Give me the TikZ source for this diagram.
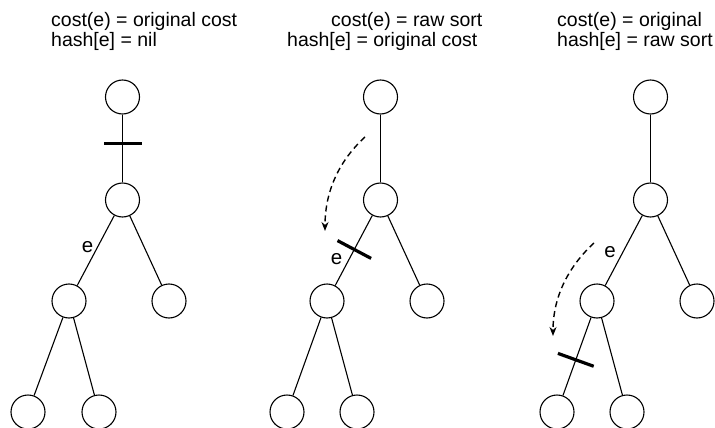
\documentclass[tikz,border=0pt]{standalone}
\usepackage{fontspec}
\setmainfont{Liberation Sans}
\usetikzlibrary{arrows.meta,calc}

\tikzset{
  vertex/.style={circle, draw, line width=1.1pt, minimum size=34pt, inner sep=0pt},
  edge/.style={line width=1.1pt},
  cutbar/.style={line width=3.2pt},
  move/.style={dashed, dash pattern=on 6pt off 4pt, line width=1.4pt, -{Stealth[length=9pt,width=7pt]}},
  caption/.style={anchor=base west, inner sep=0pt, font=\fontsize{19.5}{20}\selectfont},
  elabel/.style={inner sep=0pt, font=\fontsize{20.5}{21}\selectfont}
}

\begin{document}
\begin{tikzpicture}[x=1pt, y=-1pt]
\useasboundingbox (0,0) rectangle (715,428);

% ---------- tree 1 ----------
\node[caption] (t1a) at (51,27) {cost(e) = original cost};
\node[caption] (t1b) at (51,47) {hash[e] = nil};
\node[vertex] (a0) at (122.5,97) {};
\node[vertex] (a1) at (122.5,200) {};
\node[vertex] (a2) at (69,301) {};
\node[vertex] (a3) at (169,301) {};
\node[vertex] (a4) at (28,412) {};
\node[vertex] (a5) at (99,412) {};
\draw[edge] (a0) -- (a1);
\draw[edge] (a1) -- (a2);
\draw[edge] (a1) -- (a3);
\draw[edge] (a2) -- (a4);
\draw[edge] (a2) -- (a5);
\node[elabel] (ae) at (87.5,247) {e};
\coordinate (am) at ($(a0)!0.45!(a1)$);
\draw[cutbar] ($(am)!19pt!90:(a1)$) -- ($(am)!19pt!-90:(a1)$);

% ---------- tree 2 ----------
\node[caption] (t2a) at (331,27) {cost(e) = raw sort};
\node[caption] (t2b) at (287,47) {hash[e] = original cost};
\node[vertex] (b0) at (380.5,97) {};
\node[vertex] (b1) at (380.5,200) {};
\node[vertex] (b2) at (327,301) {};
\node[vertex] (b3) at (427,301) {};
\node[vertex] (b4) at (287,412) {};
\node[vertex] (b5) at (357,412) {};
\draw[edge] (b0) -- (b1);
\draw[edge] (b1) -- (b2);
\draw[edge] (b1) -- (b3);
\draw[edge] (b2) -- (b4);
\draw[edge] (b2) -- (b5);
\node[elabel] (be) at (336.5,259) {e};
\coordinate (bm) at ($(b1)!0.49!(b2)$);
\draw[cutbar] ($(bm)!19pt!90:(b2)$) -- ($(bm)!19pt!-90:(b2)$);
\coordinate (bs) at (365,137);
\coordinate (bt) at (325,231);
\draw[move] (bs) .. controls (340,160) and (325,190) .. (bt);

% ---------- tree 3 ----------
\node[caption] (t3a) at (557,27) {cost(e) = original};
\node[caption] (t3b) at (557,47) {hash[e] = raw sort};
\node[vertex] (c0) at (650.5,97) {};
\node[vertex] (c1) at (650.5,200) {};
\node[vertex] (c2) at (597,301) {};
\node[vertex] (c3) at (697,301) {};
\node[vertex] (c4) at (557,412) {};
\node[vertex] (c5) at (627,412) {};
\draw[edge] (c0) -- (c1);
\draw[edge] (c1) -- (c2);
\draw[edge] (c1) -- (c3);
\draw[edge] (c2) -- (c4);
\draw[edge] (c2) -- (c5);
\node[elabel] (ce) at (610,252) {e};
\coordinate (cm) at ($(c2)!0.53!(c4)$);
\draw[cutbar] ($(cm)!19pt!90:(c4)$) -- ($(cm)!19pt!-90:(c4)$);
\coordinate (cs) at (594,243);
\coordinate (ct) at (553,336);
\draw[move] (cs) .. controls (570,265) and (553,295) .. (ct);
\end{tikzpicture}
\end{document}
